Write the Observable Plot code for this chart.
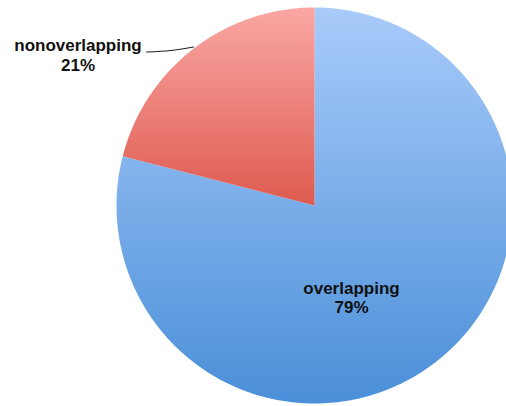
<!DOCTYPE html>
<html>
<head>
<meta charset="utf-8">
<script src="https://cdn.jsdelivr.net/npm/d3@7"></script>
<script src="https://cdn.jsdelivr.net/npm/@observablehq/plot@0.6"></script>
<style>
  html, body { margin: 0; padding: 0; background: #fff; }
  #chart svg { display: block; }
</style>
</head>
<body>
<div id="chart"></div>
<script>
// ---- data ----
const categories = ["overlapping", "nonoverlapping"];
const values = [79, 21];
const percentLabels = ["79%", "21%"];

// ---- layout ----
const W = 506, H = 406;
const cx = 314, cy = 205, R = 198;

const data = categories.map((c, i) => ({ category: c, value: values[i], label: percentLabels[i] }));

const arcs = d3.pie().sort(null).value(d => d.value).startAngle(0).endAngle(2 * Math.PI)(data);

// polygon vertices (unit circle, y up) for each slice
const poly = [];
arcs.forEach(a => {
  const n = Math.max(2, Math.ceil((a.endAngle - a.startAngle) / (Math.PI / 360)));
  poly.push({ category: a.data.category, x: 0, y: 0 });
  for (let k = 0; k <= n; k++) {
    const t = a.startAngle + (a.endAngle - a.startAngle) * k / n;
    poly.push({ category: a.data.category, x: Math.sin(t), y: Math.cos(t) });
  }
  poly.push({ category: a.data.category, x: 0, y: 0 });
});

const px = x => (x - cx) / R;
const py = y => (cy - y) / R;

const fills = { overlapping: "url(#gBlue)", nonoverlapping: "url(#gRed)" };

function defs() {
  const ns = "http://www.w3.org/2000/svg";
  const g = document.createElementNS(ns, "defs");
  g.innerHTML = `
    <linearGradient id="gBlue" x1="0" y1="0" x2="0" y2="1">
      <stop offset="0" stop-color="#a9cbfa"/>
      <stop offset="1" stop-color="#4a8fd8"/>
    </linearGradient>
    <linearGradient id="gRed" x1="0" y1="0" x2="0" y2="1">
      <stop offset="0" stop-color="#faa7a3"/>
      <stop offset="1" stop-color="#de5a50"/>
    </linearGradient>`;
  return g;
}

const labelPos = {
  overlapping: { x: px(351), y1: py(293), y2: py(312) },
  nonoverlapping: { x: px(77.5), y1: py(50), y2: py(70) }
};
const labels = [];
data.forEach(d => {
  const p = labelPos[d.category];
  labels.push({ x: p.x, y: p.y1, text: d.category });
  labels.push({ x: p.x, y: p.y2, text: d.label });
});

const leader = [
  { x: px(146), y: py(51.5) },
  { x: px(170), y: py(50) },
  { x: px(193), y: py(46.5) }
];

const chart = Plot.plot({
  width: W,
  height: H,
  margin: 0,
  x: { type: "linear", domain: [px(0), px(W)], range: [0, W], axis: null },
  y: { type: "linear", domain: [py(H), py(0)], range: [H, 0], axis: null },
  style: { background: "#fff", overflow: "hidden" },
  marks: [
    defs,
    ...categories.map(c => Plot.line(poly.filter(p => p.category === c), {
      x: "x", y: "y", fill: fills[c], stroke: "none", curve: "linear"
    })),
    Plot.line(leader, { x: "x", y: "y", stroke: "#222", strokeWidth: 1.2, curve: "natural" }),
    Plot.text(labels, {
      x: "x", y: "y", text: "text", textAnchor: "middle", lineAnchor: "bottom",
      fontFamily: "Liberation Sans, Arial, sans-serif", fontWeight: "bold", fontSize: 17, fill: "#111"
    })
  ]
});

document.getElementById("chart").appendChild(chart);
</script>
</body>
</html>
